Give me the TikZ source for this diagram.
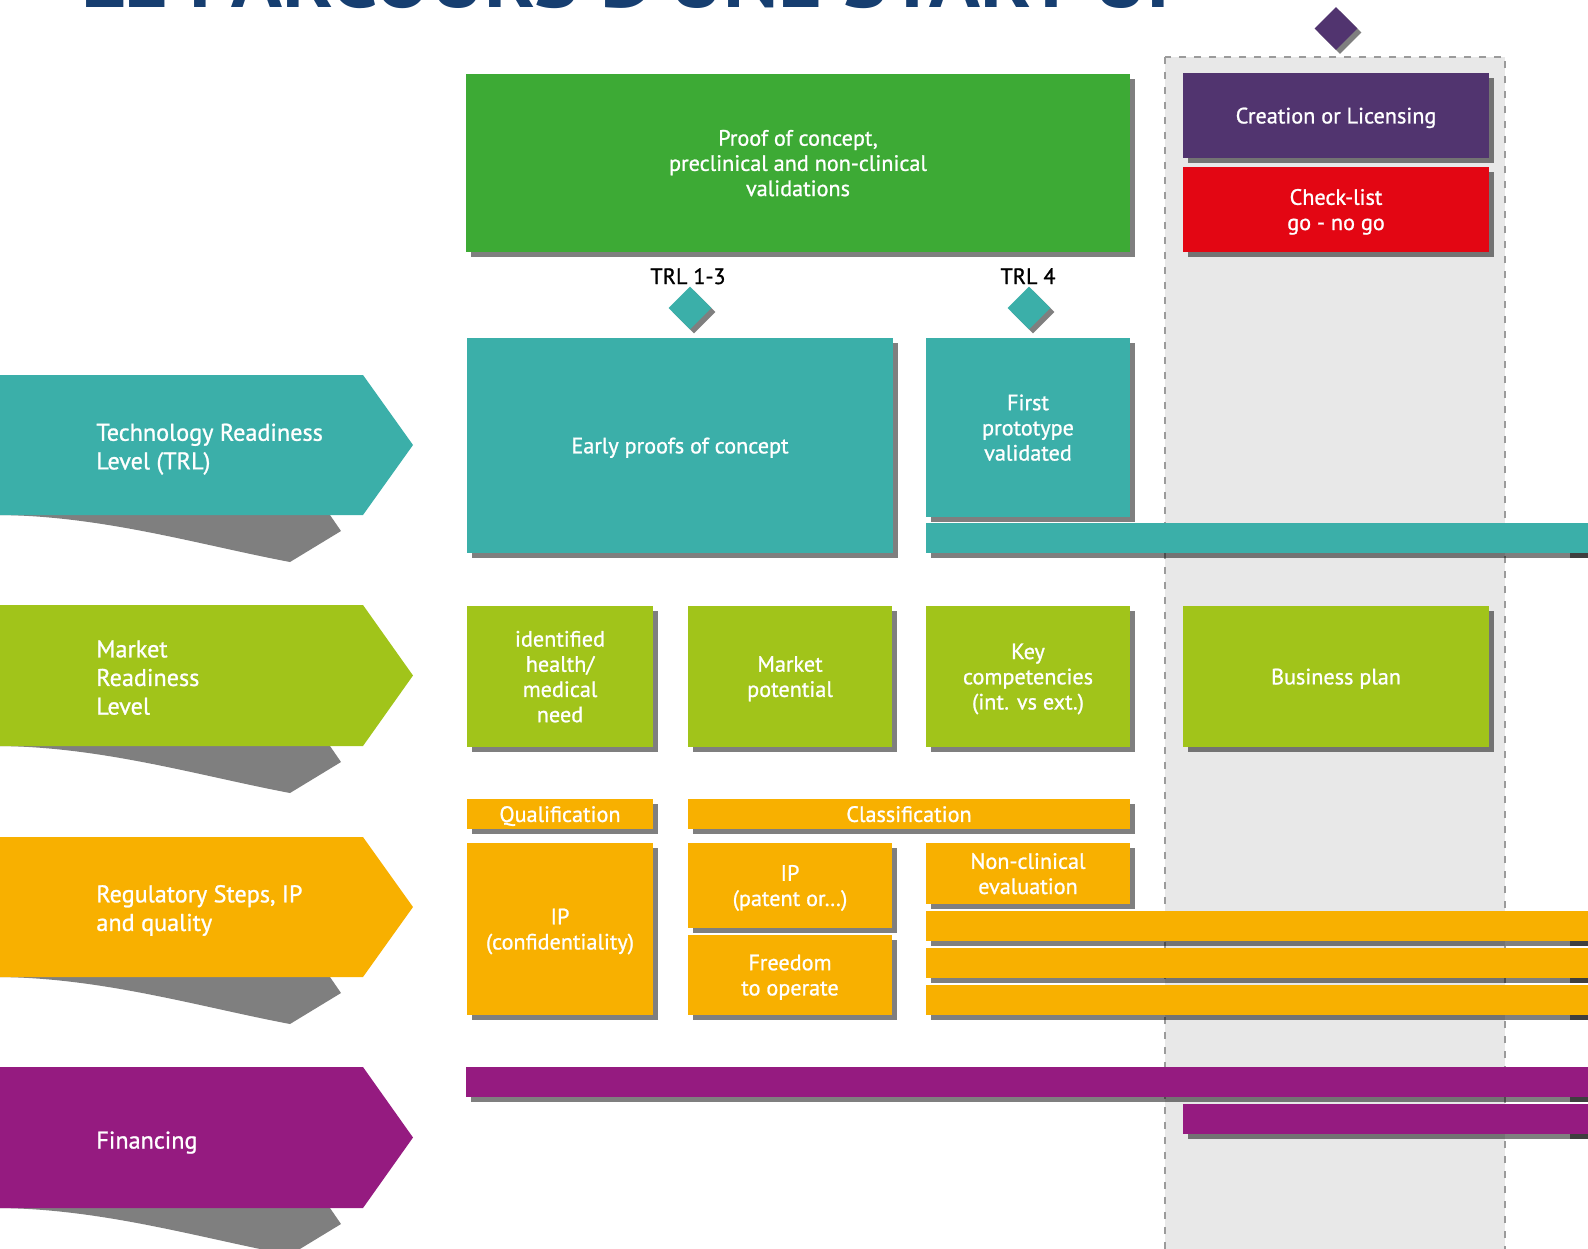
\documentclass[tikz,border=0pt]{standalone}
\usepackage{fontspec}
\setmainfont{PT Sans}
\newfontfamily\dinfont{PT Sans}[FakeBold=1.0]
\usetikzlibrary{shadows,shapes.geometric}

\definecolor{trlteal}{RGB}{59,175,169}
\definecolor{pocgreen}{RGB}{61,170,53}
\definecolor{mrllime}{RGB}{161,196,26}
\definecolor{regorange}{RGB}{248,176,0}
\definecolor{finmagenta}{RGB}{149,27,128}
\definecolor{licpurple}{RGB}{81,52,111}
\definecolor{gored}{RGB}{227,6,19}
\definecolor{titleblue}{RGB}{22,62,112}
\definecolor{zonegray}{RGB}{232,232,232}
\definecolor{dashgray}{RGB}{155,155,155}

\tikzset{
  blk/.style={rectangle, inner sep=0pt, text=white, align=center, text depth=0pt,
    font=\dinfont\fontsize{11.1}{12.6}\selectfont,
    drop shadow={shadow xshift=2.5pt, shadow yshift=-2.5pt, fill=black, opacity=0.5}},
  milestone/.style={diamond, aspect=1, inner sep=0pt, minimum width=21.5pt, minimum height=21.5pt,
    drop shadow={shadow xshift=2pt, shadow yshift=-2pt, fill=black, opacity=0.5}},
  trllabel/.style={anchor=base, inner sep=0pt, text=black, font=\dinfont\fontsize{11.1}{12.6}\selectfont},
  rowlabel/.style={anchor=west, inner sep=0pt, text=white, align=left, text depth=0pt,
    font=\dinfont\fontsize{12.1}{14.3}\selectfont},
  curl/.style={fill=black, opacity=0.5}
}

\begin{document}
\begin{tikzpicture}[x=0.5pt, y=-0.5pt]
\useasboundingbox (0,0) rectangle (1588,1248);
\clip (0,0) rectangle (1588,1248);
\node[anchor=base west, inner sep=0pt, text=titleblue] (title) at (81,7) {\resizebox{557pt}{30pt}{\bfseries LE PARCOURS D'UNE START-UP}};
\draw[dashgray, fill=zonegray, line width=1pt, dash pattern=on 3.5pt off 4pt] (1165,57) rectangle (1505,1280);

\fill[curl] (-5,515) .. controls (100,515) and (200,545) .. (290,562) -- (341,531) -- (330,515) -- cycle;
\fill[trlteal] (-5,375) -- (363,375) -- (413,445) -- (363,515) -- (-5,515) -- cycle;
\node[rowlabel] (trlrow) at (96,446.5) {Technology Readiness\\Level (TRL)};
\fill[curl] (-5,746) .. controls (100,746) and (200,776) .. (290,793) -- (341,762) -- (330,746) -- cycle;
\fill[mrllime] (-5,605) -- (363,605) -- (413,675.5) -- (363,746) -- (-5,746) -- cycle;
\node[rowlabel] (mrlrow) at (96,677.5) {Market\\Readiness\\Level};
\fill[curl] (-5,977) .. controls (100,977) and (200,1007) .. (290,1024) -- (341,993) -- (330,977) -- cycle;
\fill[regorange] (-5,837) -- (363,837) -- (413,907) -- (363,977) -- (-5,977) -- cycle;
\node[rowlabel] (regrow) at (96,908) {Regulatory Steps, IP\\and quality};
\fill[curl] (-5,1208) .. controls (100,1208) and (200,1238) .. (290,1255) -- (341,1224) -- (330,1208) -- cycle;
\fill[finmagenta] (-5,1067) -- (363,1067) -- (413,1137.5) -- (363,1208) -- (-5,1208) -- cycle;
\node[rowlabel] (finrow) at (96,1140) {Financing};

\node[blk, fill=pocgreen, minimum width=332pt, minimum height=89pt] (poc) at (798,163) {Proof of concept,\\preclinical and non-clinical\\validations};
\node[milestone, fill=licpurple] (golive) at (1336,28.5) {};
\node[blk, fill=licpurple, minimum width=153pt, minimum height=42.5pt] (licensing) at (1336,115.5) {Creation or Licensing};
\node[blk, fill=gored, minimum width=153pt, minimum height=42.5pt] (checklist) at (1336,209.5) {Check-list\\go - no go};

\node[trllabel] (trlAtext) at (688,284) {TRL 1-3};
\node[trllabel] (trlBtext) at (1028,284) {TRL 4};
\node[milestone, fill=trlteal] (trlA) at (690,308) {};
\node[milestone, fill=trlteal] (trlB) at (1029,308) {};
\node[blk, fill=trlteal, minimum width=213pt, minimum height=107.5pt] (early) at (680,445.5) {Early proofs of concept};
\node[blk, fill=trlteal, minimum width=102pt, minimum height=89.5pt] (prototype) at (1028,427.5) {First\\prototype\\validated};
\node[blk, fill=trlteal, minimum width=347pt, minimum height=15pt] (trlbar) at (1273,538) {};

\node[blk, fill=mrllime, minimum width=93pt, minimum height=70.5pt] (need) at (560,676.5) {identified\\health/\\medical\\need};
\node[blk, fill=mrllime, minimum width=102pt, minimum height=70.5pt] (potential) at (790,676.5) {Market\\potential};
\node[blk, fill=mrllime, minimum width=102pt, minimum height=70.5pt] (skills) at (1028,676.5) {Key\\competencies\\(int. vs ext.)};
\node[blk, fill=mrllime, minimum width=153pt, minimum height=70.5pt] (bizplan) at (1336,676.5) {Business plan};

\node[blk, fill=regorange, minimum width=93pt, minimum height=15pt] (qualif) at (560,814) {Qualification};
\node[blk, fill=regorange, minimum width=221pt, minimum height=15pt] (classif) at (909,814) {Classification};
\node[blk, fill=regorange, minimum width=93pt, minimum height=86pt] (ipconf) at (560,929) {IP\\(confidentiality)};
\node[blk, fill=regorange, minimum width=102pt, minimum height=42.5pt] (ippatent) at (790,885.5) {IP\\(patent or…)};
\node[blk, fill=regorange, minimum width=102pt, minimum height=40pt] (fto) at (790,975) {Freedom\\to operate};
\node[blk, fill=regorange, minimum width=102pt, minimum height=30.5pt] (nonclin) at (1028,873.5) {Non-clinical\\evaluation};
\node[blk, fill=regorange, minimum width=347pt, minimum height=15pt] (regbarA) at (1273,926) {};
\node[blk, fill=regorange, minimum width=347pt, minimum height=15pt] (regbarB) at (1273,963) {};
\node[blk, fill=regorange, minimum width=347pt, minimum height=15pt] (regbarC) at (1273,1000) {};

\node[blk, fill=finmagenta, minimum width=577pt, minimum height=15pt] (finbarA) at (1043,1082) {};
\node[blk, fill=finmagenta, minimum width=218.5pt, minimum height=15pt] (finbarB) at (1401.5,1119) {};

\fill[curl] (1570,553) rectangle (1600,558);
\fill[curl] (1570,941) rectangle (1600,946);
\fill[curl] (1570,978) rectangle (1600,983);
\fill[curl] (1570,1015) rectangle (1600,1020);
\fill[curl] (1570,1097) rectangle (1600,1102);
\fill[curl] (1570,1134) rectangle (1600,1139);
\end{tikzpicture}
\end{document}
